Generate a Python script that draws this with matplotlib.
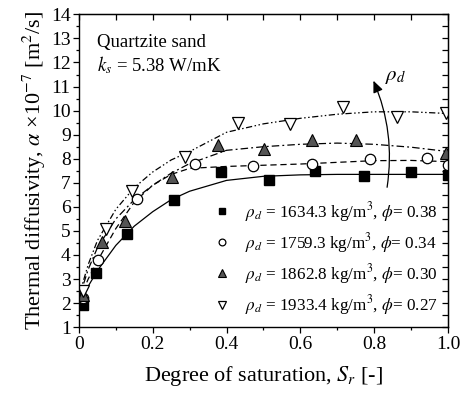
import matplotlib
matplotlib.use("Agg")
import matplotlib.pyplot as plt
from matplotlib.patches import FancyArrowPatch
from matplotlib.ticker import MultipleLocator

plt.rcParams['font.family'] = ['Liberation Serif', 'DejaVu Serif']
plt.rcParams['mathtext.fontset'] = 'stix'

# Measured thermal diffusivity (x1e-7 m^2/s) vs degree of saturation
sr_1634 = [0.01, 0.045, 0.129, 0.257, 0.384, 0.516, 0.641, 0.772, 0.899, 0.999]
a_1634 = [1.92, 3.26, 4.86, 6.29, 7.45, 7.10, 7.47, 7.30, 7.45, 7.33]

sr_1759 = [0.01, 0.052, 0.156, 0.314, 0.472, 0.632, 0.789, 0.942, 0.999]
a_1759 = [2.20, 3.79, 6.33, 7.78, 7.71, 7.78, 7.99, 8.03, 7.75]

sr_1863 = [0.01, 0.063, 0.125, 0.251, 0.378, 0.501, 0.632, 0.750, 0.996]
a_1863 = [2.35, 4.55, 5.42, 7.26, 8.58, 8.40, 8.79, 8.76, 8.24]

sr_1933 = [0.01, 0.072, 0.143, 0.287, 0.430, 0.572, 0.716, 0.863, 0.996]
a_1933 = [2.50, 5.07, 6.68, 8.07, 9.49, 9.46, 10.15, 9.74, 9.90]

# Model predictions
sr_model = [0.0, 0.025, 0.05, 0.1, 0.15, 0.2, 0.25, 0.3, 0.4, 0.5, 0.6, 0.7, 0.8, 0.9, 1.0]
m_1634 = [1.80, 2.70, 3.35, 4.40, 5.20, 5.80, 6.30, 6.65, 7.10, 7.27, 7.33, 7.35, 7.35, 7.35, 7.35]
m_1759 = [2.10, 3.00, 3.75, 5.10, 6.20, 6.90, 7.35, 7.60, 7.68, 7.73, 7.78, 7.85, 7.92, 7.93, 7.88]
m_1863 = [2.20, 3.40, 4.30, 5.50, 6.30, 6.90, 7.40, 7.80, 8.35, 8.50, 8.60, 8.65, 8.60, 8.48, 8.30]
m_1933 = [2.30, 3.60, 4.60, 5.90, 6.80, 7.45, 7.95, 8.30, 9.10, 9.45, 9.68, 9.85, 9.95, 9.95, 9.88]

labels = [
    r'$\rho_d$ = 1634.3 kg/m$^3$, $\phi$= 0.38',
    r'$\rho_d$ = 1759.3 kg/m$^3$, $\phi$= 0.34',
    r'$\rho_d$ = 1862.8 kg/m$^3$, $\phi$= 0.30',
    r'$\rho_d$ = 1933.4 kg/m$^3$, $\phi$= 0.27',
]

fig = plt.figure(figsize=(4.70, 3.99), dpi=100)
ax = fig.add_axes([0.168, 0.180, 0.785, 0.784])

lw = 0.9
ax.plot(sr_model, m_1634, color='black', lw=lw, ls='-')
ax.plot(sr_model, m_1759, color='black', lw=lw, ls=(0, (5, 3)))
ax.plot(sr_model, m_1863, color='black', lw=lw, ls=(0, (6, 2.5, 1.5, 2.5)))
ax.plot(sr_model, m_1933, color='black', lw=lw, ls=(0, (5, 2, 1.2, 2, 1.2, 2)))

ms = 7.5
ax.plot(sr_1634, a_1634, 's', ms=ms, mfc='black', mec='black', label=labels[0])
ax.plot(sr_1759, a_1759, 'o', ms=ms, mfc='white', mec='black', mew=0.9, label=labels[1])
ax.plot(sr_1863, a_1863, '^', ms=ms + 0.5, mfc='#555555', mec='black', mew=0.8, label=labels[2])
ax.plot(sr_1933, a_1933, 'v', ms=ms + 1, mfc='white', mec='black', mew=0.9, label=labels[3])

leg = ax.legend(loc='lower right', frameon=False, fontsize=12.3, markerscale=0.65,
                handlelength=0.8, handletextpad=0.9, labelspacing=0.42,
                borderaxespad=0.0, bbox_to_anchor=(0.99, 0.01))

# Direction of increasing dry density
arr = FancyArrowPatch((0.834, 6.7), (0.795, 11.35), connectionstyle='arc3,rad=0.15',
                      arrowstyle='-|>,head_length=7,head_width=3', color='black', lw=0.9,
                      mutation_scale=1)
ax.add_patch(arr)
ax.text(0.83, 11.4, r'$\rho_d$', fontsize=15, ha='left', va='center')

ax.text(0.05, 12.85, 'Quartzite sand', fontsize=13.5, ha='left', va='center')
ax.text(0.05, 11.9, r'$k_s$ = 5.38 W/mK', fontsize=13.5, ha='left', va='center')

ax.set_xlim(0, 1.0)
ax.set_ylim(1, 14)
ax.xaxis.set_major_locator(MultipleLocator(0.2))
ax.xaxis.set_minor_locator(MultipleLocator(0.1))
ax.yaxis.set_major_locator(MultipleLocator(1))
ax.yaxis.set_minor_locator(MultipleLocator(0.5))
ax.set_xticks([0, 0.2, 0.4, 0.6, 0.8, 1.0])
ax.set_xticklabels(['0', '0.2', '0.4', '0.6', '0.8', '1.0'])

ax.tick_params(which='both', direction='out', top=False, right=False, labelsize=14, width=0.9)
ax.tick_params(which='major', length=4, pad=2)
ax.tick_params(which='minor', length=2.5)

# inward ticks on the top and right edges
axt = ax.secondary_xaxis('top')
axt.xaxis.set_major_locator(MultipleLocator(0.1))
axt.tick_params(direction='in', length=4, labeltop=False, width=0.9)
axr = ax.secondary_yaxis('right')
axr.yaxis.set_major_locator(MultipleLocator(0.5))
axr.tick_params(direction='in', length=4, labelright=False, width=0.9)

for s in ax.spines.values():
    s.set_linewidth(1.0)

ax.set_xlabel(r'Degree of saturation, $S_r$ [-]', fontsize=16, labelpad=8)
ax.set_ylabel(r'Thermal diffusivity, $\alpha$ ×10$^{-7}$ [m$^2$/s]', fontsize=16, labelpad=2)

fig.savefig('out.png', dpi=100)
